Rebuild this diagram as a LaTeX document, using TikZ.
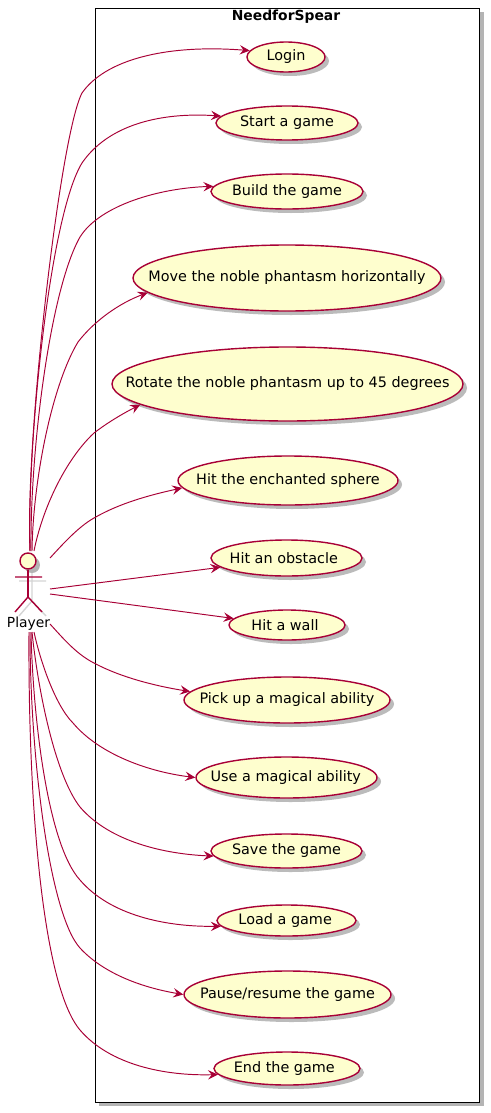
\documentclass[tikz,border=0pt]{standalone}
\usepackage{fontspec}
\setmainfont{DejaVu Sans}
\usetikzlibrary{shapes.geometric,arrows.meta,shadows}
\definecolor{umlred}{HTML}{A80036}
\definecolor{umlfill}{HTML}{FEFECE}
\definecolor{umlshadow}{HTML}{B4B4B4}
\definecolor{actorshade}{HTML}{D4D4D4}
\tikzset{
  x=0.75pt,y=-0.75pt,
  usecase/.style={ellipse,draw=umlred,fill=umlfill,line width=1.05pt,inner sep=0pt,
    font=\fontsize{10.8pt}{12pt}\selectfont,
    drop shadow={shadow xshift=3pt,shadow yshift=-3pt,fill=umlshadow,opacity=0.9}},
  link/.style={draw=umlred,line width=0.72pt,-{Stealth[length=7.5pt,width=7pt,inset=2.8pt]}},
  frame/.style={draw=black,line width=1.1pt,fill=white},
  actorline/.style={draw=umlred,line width=1.05pt},
  actorshadow/.style={draw=actorshade,line width=1.05pt}
}
\begin{document}
\begin{tikzpicture}
\useasboundingbox (0,0) rectangle (490,1113);
\fill[umlshadow] (99,12) rectangle (484,1106);
\node[frame,inner sep=0pt,anchor=north west,minimum width=288pt,minimum height=820.5pt] (sys) at (95,8) {};
\node[font=\bfseries\fontsize{10.4pt}{12pt}\selectfont] (systitle) at (286,17) {NeedforSpear};
\newcommand{\uc}[5]{\node[usecase,minimum width=#3*0.75pt,minimum height=#4*0.75pt] (#1) at (#2) {\makebox[0pt][c]{\raisebox{0.7pt}{#5}}};}
\uc{login}{286,57}{78}{30}{Login}
\uc{start}{287,123}{142}{34}{Start a game}
\uc{build}{287,191.5}{152}{35}{Build the game}
\uc{move}{287,278}{308}{66}{Move the noble phantasm horizontally}
\uc{rotate}{287.5,384}{351}{74}{Rotate the noble phantasm up to 45 degrees}
\uc{sphere}{288,480.5}{220}{49}{Hit the enchanted sphere}
\uc{obstacle}{286.5,558}{151}{36}{\hspace*{-4pt}Hit an obstacle}
\uc{wall}{287,625}{116}{30}{\hspace*{-3pt}Hit a wall}
\uc{pick}{287,700}{206}{46}{Pick up a magical ability}
\uc{use}{286.5,777.5}{181}{41}{\hspace*{-1pt}Use a magical ability}
\uc{save}{286.5,851}{151}{34}{Save the game}
\uc{load}{286.5,920.5}{139}{31}{\hspace*{-2pt}Load a game}
\uc{pause}{287.5,994.5}{207}{47}{Pause/resume the game}
\uc{end}{287,1068.5}{146}{33}{\hspace*{-4pt}End the game}
% actor
\begin{scope}[shift={(4,4)}]
\fill[umlshadow] (28,561) circle (6pt);
\draw[actorshadow] (28,569)--(28,597) (15,577)--(42,577) (15,612)--(28,597)--(42,612);
\end{scope}
\node[circle,draw=umlred,fill=umlfill,line width=1.05pt,minimum size=12pt,inner sep=0pt] (head) at (28,561) {};
\coordinate (hip) at (28,597);
\draw[actorline] (head.south)--(hip);
\coordinate (armL) at (15,577); \coordinate (armR) at (42,577);
\coordinate (legL) at (15,612); \coordinate (legR) at (42,612);
\draw[actorline] (armL)--(armR) (legL)--(hip)--(legR);
\node[font=\fontsize{10.4pt}{12pt}\selectfont] (player) at (28.5,624) {Player};
% free ends
\coordinate (p1) at (30,551); \coordinate (p2) at (30,551); \coordinate (p3) at (31,551);
\coordinate (p4) at (32,551); \coordinate (p5) at (34,551); \coordinate (p6) at (50,558);
\coordinate (p7) at (50,589); \coordinate (p8) at (50,594); \coordinate (p9) at (50,624);
\coordinate (p10) at (34,632); \coordinate (p11) at (32,632); \coordinate (p12) at (31,632);
\coordinate (p13) at (30,632); \coordinate (p14) at (29,632);
\draw[link] (p1) .. controls (25,440) and (60,135) .. (82,93) .. controls (105,60) and (165,44) .. (login.170);
\draw[link] (p2) .. controls (27,440) and (50,215) .. (82,163) .. controls (108,125) and (160,112) .. (start.174);
\draw[link] (p3) .. controls (30,450) and (50,290) .. (80,237) .. controls (100,205) and (160,188) .. (build.176);
\draw[link] (p4) .. controls (33,480) and (52,385) .. (78,342) .. controls (95,320) and (120,303) .. (move.186);
\draw[link] (p5) .. controls (42,510) and (65,460) .. (94,433) .. controls (107,423) and (122,414) .. (rotate.188.6);
\draw[link] (p6) .. controls (62,545) and (78,527) .. (94,518) .. controls (120,503) and (150,495) .. (sphere.184);
\draw[link] (p7) -- (obstacle.188);
\draw[link] (p8) -- (wall.173.5);
\draw[link] (p9) .. controls (62,637) and (76,654) .. (94,663) .. controls (120,677) and (155,686) .. (pick.175);
\draw[link] (p10) .. controls (40,660) and (55,705) .. (73,723) .. controls (100,755) and (150,772) .. (use.180);
\draw[link] (p11) .. controls (38,690) and (55,775) .. (80,807) .. controls (110,842) and (165,854) .. (save.184);
\draw[link] (p12) .. controls (33,720) and (48,845) .. (80,880) .. controls (110,915) and (165,927) .. (load.185);
\draw[link] (p13) .. controls (30,760) and (50,915) .. (80,948) .. controls (105,975) and (145,988) .. (pause.180);
\draw[link] (p14) .. controls (28,800) and (42,985) .. (80,1030) .. controls (110,1065) and (165,1076) .. (end.185.5);
\end{tikzpicture}
\end{document}
